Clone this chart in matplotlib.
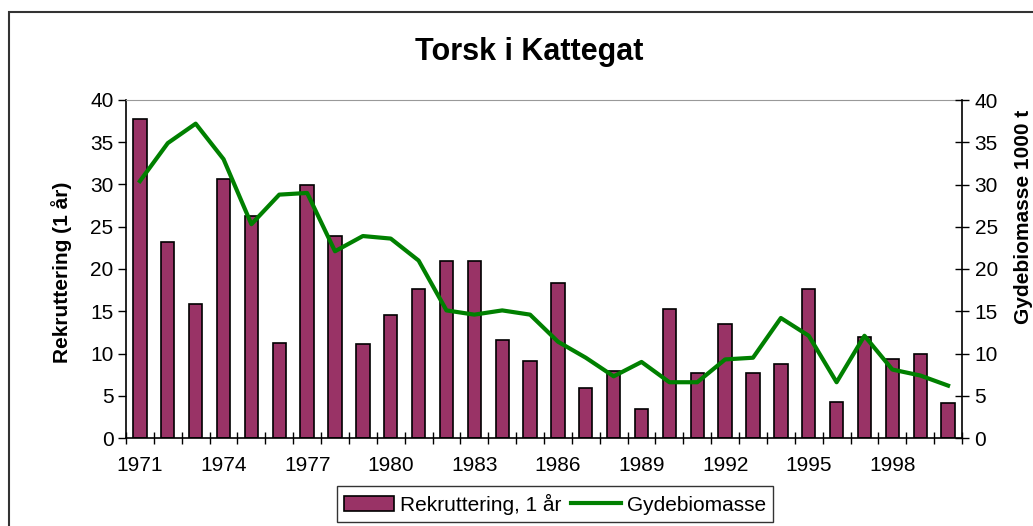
import numpy as np
import matplotlib.pyplot as plt
from matplotlib.patches import Rectangle

plt.rcParams['font.family'] = ['Liberation Sans', 'DejaVu Sans']

years = list(range(1971, 2001))
rekruttering = [37.8, 23.2, 15.8, 30.6, 26.3, 11.3, 29.9, 23.9, 11.1, 14.6,
                17.6, 20.9, 20.9, 11.6, 9.1, 18.3, 5.9, 7.9, 3.4, 15.3,
                7.7, 13.5, 7.7, 8.8, 17.6, 4.3, 12.0, 9.3, 9.95, 4.1]
gydebiomasse = [30.4, 34.9, 37.2, 33.0, 25.3, 28.8, 29.0, 22.1, 23.9, 23.6,
                21.0, 15.1, 14.6, 15.1, 14.6, 11.4, 9.5, 7.3, 9.0, 6.6,
                6.6, 9.3, 9.5, 14.2, 12.1, 6.6, 12.1, 8.1, 7.4, 6.2]
tick_years = years[::3]

fs = 15

fig = plt.figure(figsize=(10.33, 5.26), dpi=100)
# outer chart border
fig.patches.append(Rectangle((9 / 1033, -0.1), 1.2, (526 - 12) / 526 + 0.1,
                             transform=fig.transFigure, fill=False,
                             edgecolor='#333333', linewidth=1.5))

ax = fig.add_axes([126 / 1033, 88 / 526, 836 / 1033, 338 / 526])
x = np.arange(len(years))
bars = ax.bar(x, rekruttering, width=0.48, color='#993366', edgecolor='black',
              linewidth=1.2, label='Rekruttering, 1 år', zorder=2)
ax.set_xlim(-0.5, len(years) - 0.5)
ax.set_ylim(0, 40)
ax.set_yticks(range(0, 41, 5))
ax.tick_params(axis='y', direction='out', length=6, width=1, labelsize=fs, pad=3)
ax.set_xticks([years.index(y) for y in tick_years])
ax.set_xticklabels([str(y) for y in tick_years])
ax.set_xticks(np.arange(-0.5, len(years), 1), minor=True)
ax.tick_params(axis='x', which='major', length=0, labelsize=fs, pad=13)
ax.tick_params(axis='x', which='minor', direction='inout', length=9, width=1)
ax.spines['top'].set_color('#999999')
ax.spines['right'].set_visible(False)
for s in ['left', 'bottom']:
    ax.spines[s].set_linewidth(1.2)
ax.set_ylabel('Rekruttering (1 år)', fontsize=fs, fontweight='bold')
ax.yaxis.set_label_coords(-0.0646, 0.49)

ax2 = ax.twinx()
line, = ax2.plot(x, gydebiomasse, color='#008000', linewidth=3, label='Gydebiomasse', zorder=3)
ax2.set_ylim(0, 40)
ax2.set_yticks(range(0, 41, 5))
ax2.tick_params(axis='y', direction='inout', length=10, width=1, labelsize=fs, pad=4)
for s in ['left', 'top', 'bottom']:
    ax2.spines[s].set_visible(False)
ax2.spines['right'].set_linewidth(1.2)
ax2.set_ylabel('Gydebiomasse 1000 t', fontsize=fs, fontweight='bold')
ax2.yaxis.set_label_coords(1.0622, 0.654)

fig.text(529 / 1033, 1 - 52 / 526, 'Torsk i Kattegat', ha='center', va='center',
         fontsize=22, fontweight='bold')

leg = fig.legend([bars, line], ['Rekruttering, 1 år', 'Gydebiomasse'],
                 loc='center', bbox_to_anchor=(555 / 1033, 1 - 504 / 526),
                 ncol=2, fontsize=fs, frameon=True, fancybox=False,
                 edgecolor='black', handlelength=2.4, handleheight=0.7,
                 columnspacing=0.5, handletextpad=0.25, borderpad=0.35)
leg.get_frame().set_linewidth(1)

fig.savefig('out.png', dpi=100)
